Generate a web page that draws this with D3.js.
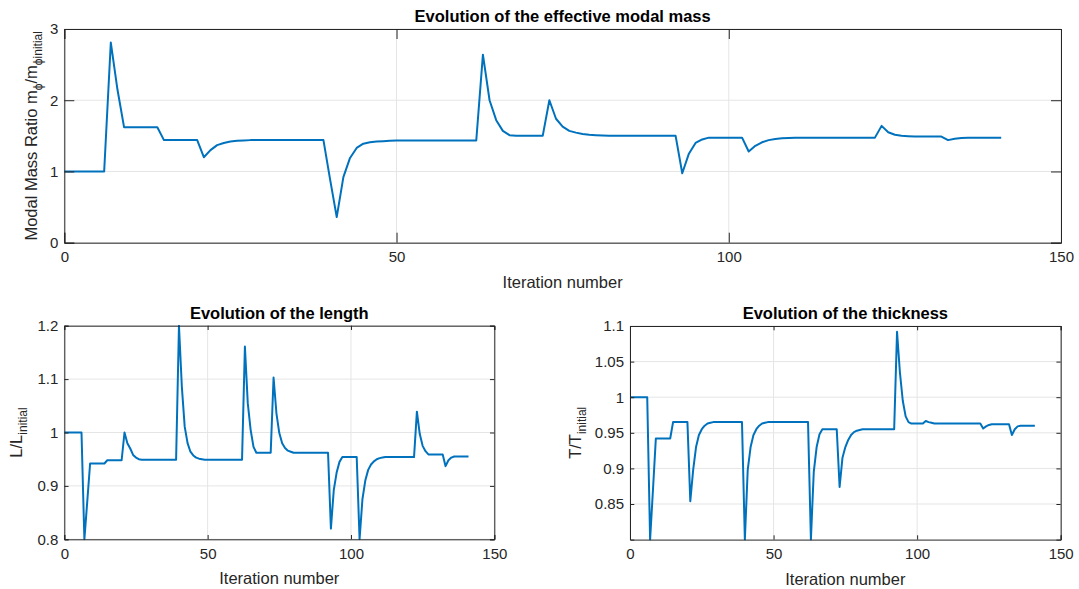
<!DOCTYPE html>
<html>
<head>
<meta charset="utf-8">
<script src="https://cdn.jsdelivr.net/npm/d3@7"></script>
<style>
  body { margin: 0; background: #fff; }
  svg { display: block; font-family: "Liberation Sans", Arial, Helvetica, sans-serif; }
</style>
</head>
<body>
<div id="root"></div>
<script>
// iteration 0..141
const iterations = d3.range(0, 142)

const massRatio = [
  1.0, 1.0, 1.0, 1.0, 1.0, 1.0, 1.0, 2.81, 2.15, 1.62,
  1.62, 1.62, 1.62, 1.62, 1.62, 1.44, 1.44, 1.44, 1.44, 1.44,
  1.44, 1.20, 1.30, 1.37, 1.40, 1.42, 1.43, 1.435, 1.44, 1.44,
  1.44, 1.44, 1.44, 1.44, 1.44, 1.44, 1.44, 1.44, 1.44, 1.44,
  0.89, 0.36, 0.92, 1.19, 1.33, 1.39, 1.41, 1.42, 1.425, 1.43,
  1.435, 1.435, 1.435, 1.435, 1.435, 1.435, 1.435, 1.435, 1.435, 1.435,
  1.435, 1.435, 1.435, 2.64, 2.0, 1.72, 1.57, 1.51, 1.50, 1.50,
  1.50, 1.50, 1.50, 2.0, 1.74, 1.63, 1.57, 1.545, 1.525, 1.515,
  1.51, 1.505, 1.50, 1.50, 1.50, 1.50, 1.50, 1.50, 1.50, 1.50,
  1.50, 1.50, 1.50, 0.975, 1.25, 1.40, 1.45, 1.475, 1.475, 1.475,
  1.475, 1.475, 1.475, 1.28, 1.36, 1.41, 1.44, 1.455, 1.465, 1.47,
  1.475, 1.475, 1.475, 1.475, 1.475, 1.475, 1.475, 1.475, 1.475, 1.475,
  1.475, 1.475, 1.475, 1.64, 1.55, 1.515, 1.50, 1.495, 1.49, 1.49,
  1.49, 1.49, 1.49, 1.44, 1.46, 1.47, 1.475, 1.475, 1.475, 1.475,
  1.475, 1.475
]

const lengthRatio = [
  1.0, 1.0, 1.0, 1.0, 1.0, 1.0, 1.0, 0.80, 0.87, 0.942,
  0.942, 0.942, 0.942, 0.942, 0.942, 0.948, 0.948, 0.948, 0.948, 0.948,
  0.948, 1.0, 0.98, 0.97, 0.958, 0.953, 0.95, 0.949, 0.949, 0.949,
  0.949, 0.949, 0.949, 0.949, 0.949, 0.949, 0.949, 0.949, 0.949, 0.949,
  1.2, 1.086, 1.011, 0.98, 0.964, 0.957, 0.953, 0.951, 0.95, 0.949,
  0.949, 0.949, 0.949, 0.949, 0.949, 0.949, 0.949, 0.949, 0.949, 0.949,
  0.949, 0.949, 0.949, 1.161, 1.055, 1.005, 0.973, 0.962, 0.962, 0.962,
  0.962, 0.962, 0.962, 1.103, 1.036, 0.999, 0.98, 0.971, 0.966, 0.964,
  0.962, 0.962, 0.962, 0.962, 0.962, 0.962, 0.962, 0.962, 0.962, 0.962,
  0.962, 0.962, 0.962, 0.82, 0.892, 0.925, 0.945, 0.954, 0.954, 0.954,
  0.954, 0.954, 0.954, 0.80, 0.875, 0.91, 0.93, 0.94, 0.946, 0.95,
  0.952, 0.953, 0.954, 0.954, 0.954, 0.954, 0.954, 0.954, 0.954, 0.954,
  0.954, 0.954, 0.954, 1.039, 0.997, 0.975, 0.965, 0.959, 0.959, 0.959,
  0.959, 0.959, 0.959, 0.937, 0.948, 0.953, 0.955, 0.955, 0.955, 0.955,
  0.955, 0.955
]

const thicknessRatio = [
  1.0, 1.0, 1.0, 1.0, 1.0, 1.0, 1.0, 0.80, 0.87, 0.942,
  0.942, 0.942, 0.942, 0.942, 0.942, 0.965, 0.965, 0.965, 0.965, 0.965,
  0.965, 0.854, 0.898, 0.93, 0.947, 0.955, 0.96, 0.963, 0.964, 0.965,
  0.965, 0.965, 0.965, 0.965, 0.965, 0.965, 0.965, 0.965, 0.965, 0.965,
  0.80, 0.898, 0.93, 0.947, 0.955, 0.96, 0.963, 0.964, 0.965, 0.965,
  0.965, 0.965, 0.965, 0.965, 0.965, 0.965, 0.965, 0.965, 0.965, 0.965,
  0.965, 0.965, 0.965, 0.80, 0.895, 0.93, 0.948, 0.955, 0.955, 0.955,
  0.955, 0.955, 0.955, 0.874, 0.915, 0.93, 0.94, 0.947, 0.951, 0.953,
  0.954, 0.955, 0.955, 0.955, 0.955, 0.955, 0.955, 0.955, 0.955, 0.955,
  0.955, 0.955, 0.955, 1.092, 1.035, 0.995, 0.973, 0.965, 0.963, 0.963,
  0.963, 0.963, 0.963, 0.9666, 0.965, 0.964, 0.963, 0.963, 0.963, 0.963,
  0.963, 0.963, 0.963, 0.963, 0.963, 0.963, 0.963, 0.963, 0.963, 0.963,
  0.963, 0.963, 0.963, 0.956, 0.959, 0.961, 0.962, 0.962, 0.962, 0.962,
  0.962, 0.962, 0.962, 0.947, 0.955, 0.959, 0.96, 0.96, 0.96, 0.96,
  0.96, 0.96
]

const xTicks = [0, 50, 100, 150]
const massTicks = [0, 1, 2, 3]
const lengthTicks = [0.8, 0.9, 1, 1.1, 1.2]
const thicknessTicks = [0.85, 0.9, 0.95, 1, 1.05, 1.1]

const W = 1079, H = 589
const textColor = "#262626"
const lineColor = "#0072BD"

const svg = d3.select("#root").append("svg")
  .attr("width", W).attr("height", H)

const drawPanel = (opts) => {
  const {id, box, yDomain, yTicks, values, title, ylabel, ylabelX, tickLen} = opts
  const [x0, y0, x1, y1] = box
  const x = d3.scaleLinear().domain([0, 150]).range([x0, x1])
  const y = d3.scaleLinear().domain(yDomain).range([y1, y0])
  const g = svg.append("g")

  // grid
  g.selectAll(".gx").data(xTicks).enter().append("line")
    .attr("x1", d => x(d)).attr("x2", d => x(d))
    .attr("y1", y0).attr("y2", y1)
    .attr("stroke", "#e5e5e5").attr("stroke-width", 1)
  g.selectAll(".gy").data(yTicks).enter().append("line")
    .attr("x1", x0).attr("x2", x1)
    .attr("y1", d => y(d)).attr("y2", d => y(d))
    .attr("stroke", "#e5e5e5").attr("stroke-width", 1)

  // data line
  svg.append("clipPath").attr("id", "clip-" + id)
    .append("rect").attr("x", x0).attr("y", y0 - 1)
    .attr("width", x1 - x0).attr("height", y1 - y0 + 2)
  const line = d3.line().x((d, i) => x(iterations[i])).y(d => y(d))
  g.append("path").datum(values)
    .attr("d", line)
    .attr("fill", "none")
    .attr("stroke", lineColor)
    .attr("stroke-width", 2)
    .attr("stroke-linejoin", "round")
    .attr("clip-path", "url(#clip-" + id + ")")

  // axes with inward ticks, box on
  const axB = d3.axisBottom(x).tickValues(xTicks).tickSize(-tickLen).tickPadding(9).tickFormat(d3.format("d"))
  const axT = d3.axisTop(x).tickValues(xTicks).tickSize(-tickLen).tickFormat("")
  const axL = d3.axisLeft(y).tickValues(yTicks).tickSize(-tickLen).tickPadding(6).tickFormat(d => String(+d.toFixed(2)))
  const axR = d3.axisRight(y).tickValues(yTicks).tickSize(-tickLen).tickFormat("")

  const style = sel => {
    sel.selectAll("path").attr("stroke", textColor).attr("stroke-width", 1)
    sel.selectAll("line").attr("stroke", textColor)
    sel.selectAll("text").attr("fill", textColor)
      .style("font-family", "'Liberation Sans', Arial, sans-serif")
      .style("font-size", "15px")
  }
  g.append("g").attr("transform", `translate(0,${y1})`).call(axB).call(style)
  g.append("g").attr("transform", `translate(0,${y0})`).call(axT).call(style)
  g.append("g").attr("transform", `translate(${x0},0)`).call(axL).call(style)
  g.append("g").attr("transform", `translate(${x1},0)`).call(axR).call(style)
  g.selectAll(".domain").attr("stroke", textColor)

  // title
  g.append("text")
    .attr("x", (x0 + x1) / 2).attr("y", y0 - 7)
    .attr("text-anchor", "middle")
    .attr("fill", "#000")
    .style("font-size", "16.5px").style("font-weight", "bold")
    .text(title)

  // x label
  g.append("text")
    .attr("x", (x0 + x1) / 2).attr("y", y1 + 45)
    .attr("text-anchor", "middle")
    .attr("fill", textColor)
    .style("font-size", "16.5px")
    .text("Iteration number")

  // y label with subscripts
  const yl = g.append("text")
    .attr("transform", `translate(${ylabelX},${(y0 + y1) / 2}) rotate(-90)`)
    .attr("text-anchor", "middle")
    .attr("fill", textColor)
    .style("font-size", "16.5px")
  ylabel.forEach(part => {
    const t = yl.append("tspan").text(part.t)
    if (part.sub) t.attr("dy", 5).style("font-size", "12px")
    else if (part.after) t.attr("dy", -5)
  })
}

drawPanel({
  id: "mass",
  box: [64.3, 29, 1061, 242.7],
  yDomain: [0, 3],
  yTicks: massTicks,
  values: massRatio,
  title: "Evolution of the effective modal mass",
  ylabel: [{t: "Modal Mass Ratio m"}, {t: "\u03d5", sub: true}, {t: "/m", after: true}, {t: "\u03d5initial", sub: true}],
  ylabelX: 37,
  tickLen: 10
})

drawPanel({
  id: "length",
  box: [64.3, 325.7, 494.3, 539.3],
  yDomain: [0.8, 1.2],
  yTicks: lengthTicks,
  values: lengthRatio,
  title: "Evolution of the length",
  ylabel: [{t: "L/L"}, {t: "initial", sub: true}],
  ylabelX: 22,
  tickLen: 4.3
})

drawPanel({
  id: "thick",
  box: [630, 326, 1060.7, 539.6],
  yDomain: [0.8, 1.1],
  yTicks: thicknessTicks,
  values: thicknessRatio,
  title: "Evolution of the thickness",
  ylabel: [{t: "T/T"}, {t: "initial", sub: true}],
  ylabelX: 581,
  tickLen: 4.3
})
</script>
</body>
</html>
